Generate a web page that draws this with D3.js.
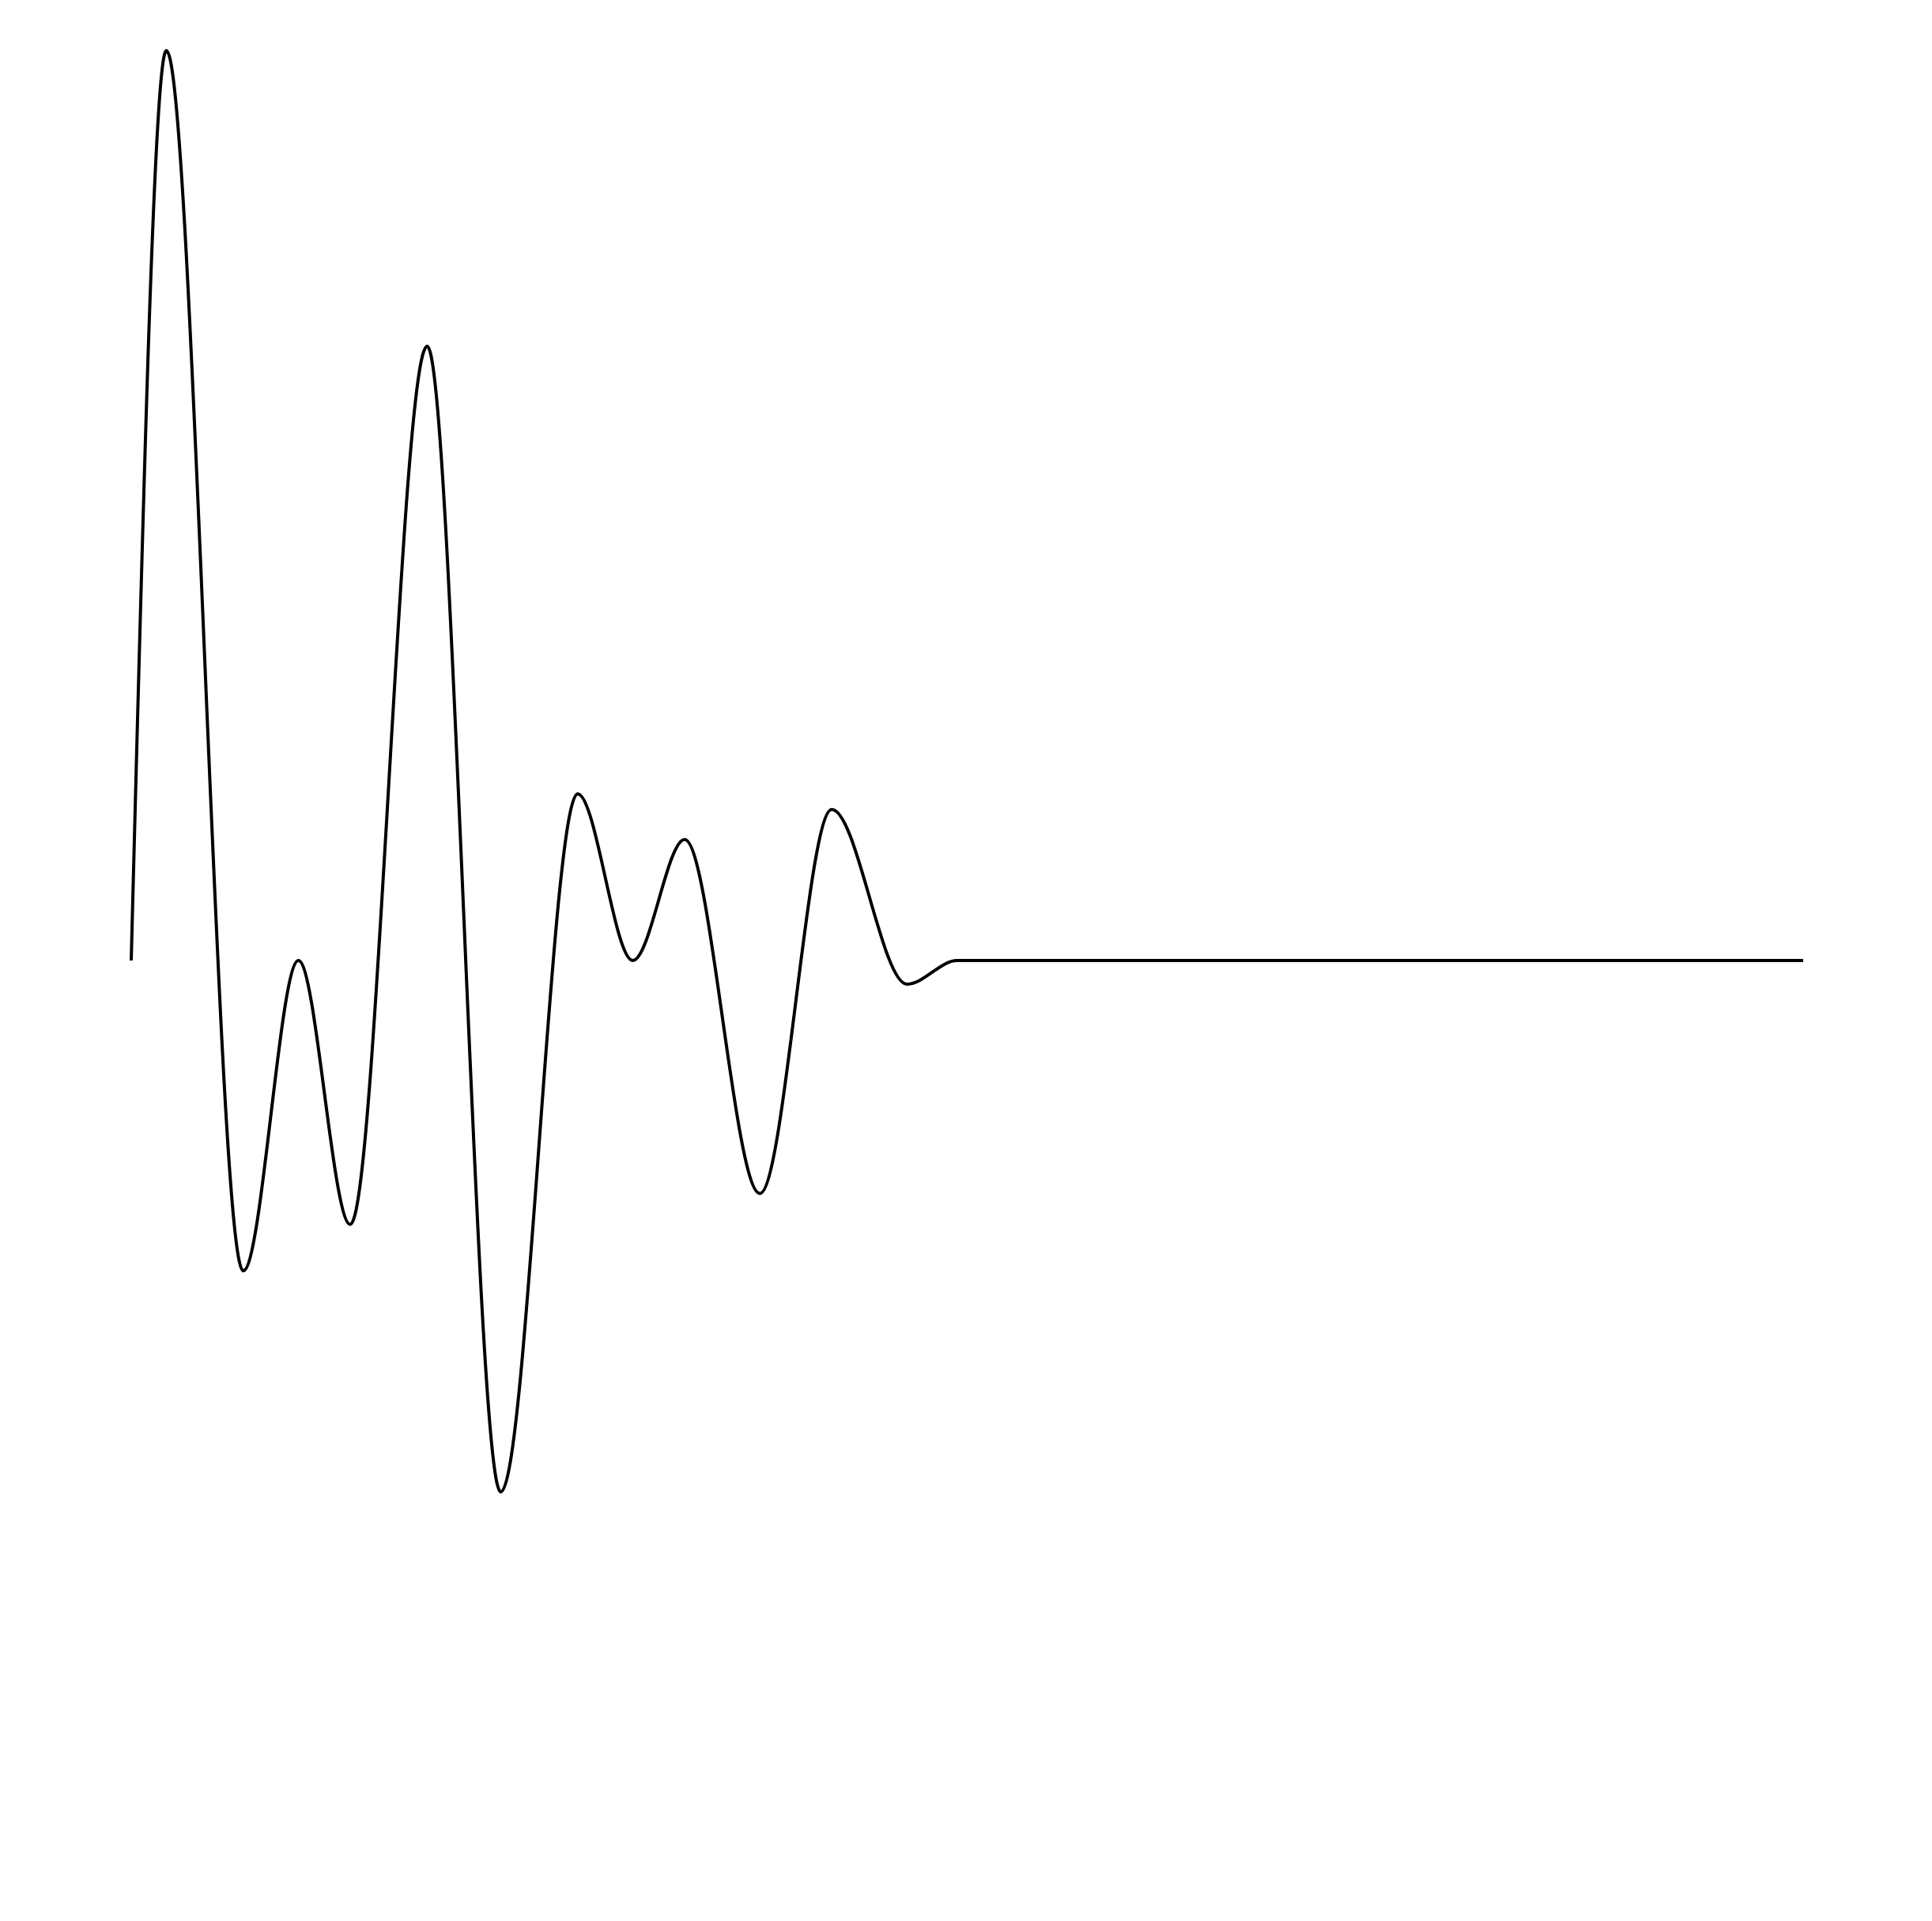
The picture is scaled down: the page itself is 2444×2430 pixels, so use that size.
<!DOCTYPE html>
<html>
<head>
<meta charset="utf-8">
<script src="https://cdn.jsdelivr.net/npm/d3@7"></script>
<style>
  html, body { margin: 0; padding: 0; background: #ffffff; }
  svg { display: block; }
</style>
</head>
<body>
<script>
// Sample positions (time) and signal values
const times  = [0, 2.1, 6.7, 10.0, 13.1, 17.7, 22.1, 26.7, 30.0, 33.1, 37.6, 41.9, 46.4, 49.4, 100];
const values = [0, 1.0, -0.341, 0.0, -0.290, 0.675, -0.584, 0.183, 0.0, 0.133, -0.256, 0.166, -0.026, 0, 0];

const width = 2444, height = 2430;
const margin = { top: 64, right: 163, bottom: 64, left: 166 };

const svg = d3.select("body").append("svg")
  .attr("width", width)
  .attr("height", height)
  .style("background", "#ffffff");

const x = d3.scaleLinear()
  .domain([0, 100])
  .range([margin.left, width - margin.right]);

const y = d3.scaleLinear()
  .domain([-1, 1])
  .range([height - margin.bottom, margin.top]);

const data = times.map((t, i) => ({ t, v: values[i] }));

const line = d3.line()
  .x(d => x(d.t))
  .y(d => y(d.v))
  .curve(d3.curveMonotoneX);

svg.append("path")
  .datum(data)
  .attr("fill", "none")
  .attr("stroke", "#000000")
  .attr("stroke-width", 4)
  .attr("d", line);
</script>
</body>
</html>
